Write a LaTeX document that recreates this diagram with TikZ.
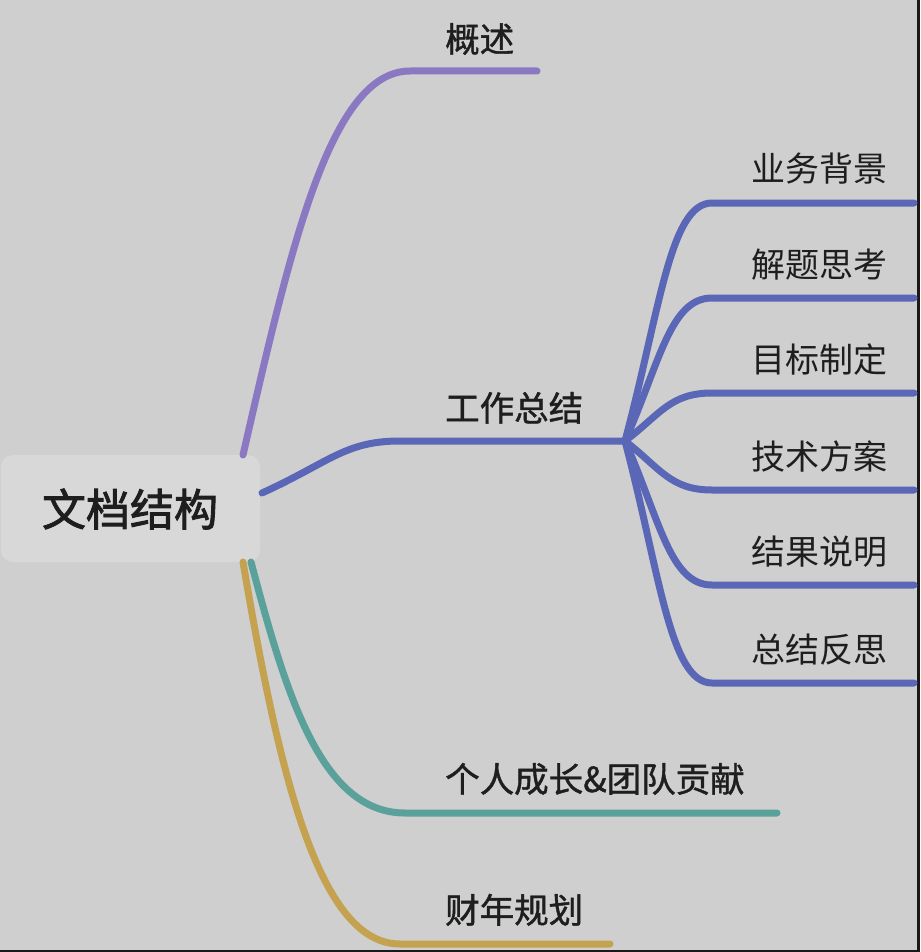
\documentclass[tikz,border=0pt]{standalone}
\usepackage{fontspec}
\setmainfont{Noto Sans CJK SC}
\newfontfamily\cjkmid{Noto Sans CJK SC}[FakeBold=1.2]
\newfontfamily\cjkroot{Noto Sans CJK SC}[FakeBold=2]
\usetikzlibrary{positioning, calc}
\definecolor{bgGray}{HTML}{CFCFCF}
\definecolor{rootGray}{HTML}{D8D8D8}
\definecolor{textDark}{HTML}{1E1E1E}
\definecolor{overviewPurple}{HTML}{8A78C2}
\definecolor{workBlue}{HTML}{5A66B6}
\definecolor{growTeal}{HTML}{5AA09B}
\definecolor{planGold}{HTML}{C4A24F}
\tikzset{branch/.style={line width=7pt, line cap=round}}

\begin{document}
\begin{tikzpicture}[
		x=1pt, y=-1pt,
		root/.style={font=\cjkroot\fontsize{44}{48}\selectfont, text=textDark, inner sep=0pt},
		topic/.style={anchor=base west, font=\cjkmid\fontsize{34.5}{38}\selectfont, text=textDark, inner sep=0pt},
		sub/.style={anchor=base east, font=\fontsize{34}{38}\selectfont, text=textDark, inner sep=0pt}
		]
		% Background and frame
		\fill[bgGray] (0,0) rectangle (920,952);
		\useasboundingbox (0,0) rectangle (920,952);
		\fill[black!90] (917,0) rectangle (920,952);
		\fill[black!90] (0,950) rectangle (920,952);

		% Root
		\fill[rootGray, rounded corners=12pt] (1,455) rectangle (260,562);
		\node[root] (root) at (130,509) {文档结构};
		\coordinate (rootN) at (243,455);
		\coordinate (rootE) at (262,493);
		\coordinate (rootS) at (251,562);
		\coordinate (rootSW) at (243,562);

		% Main branches
		\coordinate (ovA) at (410,71);
		\coordinate (ovB) at (537,71);
		\node[topic] (overview) at (445,52) {概述};
		\draw[branch, overviewPurple] (rootN) .. controls (290,250) and (330,71) .. (ovA) -- (ovB);

		\coordinate (workA) at (400,441);
		\coordinate (hub) at (625,441);
		\node[topic] (work) at (445,421) {工作总结};
		\draw[branch, workBlue] (rootE) .. controls (330,462) and (345,441) .. (workA) -- (hub);

		\coordinate (growA) at (405,813);
		\coordinate (growB) at (777,813);
		\node[topic] (grow) at (445,792) {个人成长\&团队贡献};
		\draw[branch, growTeal] (rootS) .. controls (285,690) and (320,813) .. (growA) -- (growB);

		\coordinate (planA) at (400,944);
		\coordinate (planB) at (610,944);
		\node[topic] (plan) at (445,923) {财年规划};
		\draw[branch, planGold] (rootSW) .. controls (280,780) and (320,944) .. (planA) -- (planB);

		% Sub branches of work
		\foreach \name/\y/\txt in {bg/203/业务背景, think/298/解题思考, goal/393/目标制定, tech/490/技术方案, result/585/结果说明, review/683/总结反思}{
			\coordinate (\name-a) at (712,\y);
			\coordinate (\name-b) at (914,\y);
			\node[sub] (\name) at (888,\y-21) {\txt};
			\draw[branch, workBlue] (hub) .. controls ($(hub)+(35,{(\y-441)*0.55})$) and (670,\y) .. (\name-a) -- (\name-b);
		}
	\end{tikzpicture}
\end{document}
